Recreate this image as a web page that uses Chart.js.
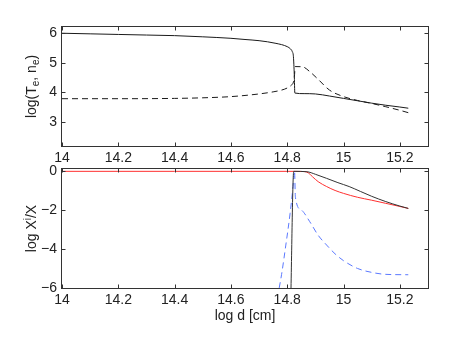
<!DOCTYPE html>
<html>
<head>
<meta charset="utf-8">
<script src="https://cdn.jsdelivr.net/npm/chart.js@4/dist/chart.umd.min.js"></script>
<style>
  html, body { margin: 0; padding: 0; background: #fff; }
  #wrap { position: relative; width: 469px; height: 353px; }
  canvas { position: absolute; left: 0; }
</style>
</head>
<body>
<div id="wrap">
  <canvas id="topChart" width="469" height="165" style="top:0"></canvas>
  <canvas id="bottomChart" width="469" height="198" style="top:155px"></canvas>
</div>
<script>
// tick labels
const xTicks = [14, 14.2, 14.4, 14.6, 14.8, 15, 15.2];
const topYTicks = [3, 4, 5, 6];
const bottomYTicks = [-6, -4, -2, 0];

// top panel: log T_e (solid)
const dTemp = [14.0, 14.1, 14.2, 14.3, 14.4, 14.5, 14.6, 14.65, 14.7, 14.76, 14.8, 14.812, 14.818, 14.822, 14.825, 14.827, 14.86, 14.9, 14.95, 15.0, 15.05, 15.1, 15.15, 15.2, 15.23];
const logTemp = [5.99, 5.97, 5.95, 5.93, 5.91, 5.87, 5.82, 5.78, 5.74, 5.65, 5.54, 5.46, 5.37, 5.2, 4.6, 3.98, 3.96, 3.95, 3.88, 3.80, 3.72, 3.64, 3.57, 3.51, 3.47];

// top panel: log n_e (dashed)
const dDens = [14.0, 14.2, 14.4, 14.5, 14.6, 14.7, 14.75, 14.78, 14.8, 14.815, 14.822, 14.826, 14.828, 14.855, 14.88, 14.91, 14.95, 15.0, 15.05, 15.1, 15.15, 15.2, 15.23];
const logDens = [3.79, 3.79, 3.80, 3.82, 3.86, 3.95, 4.02, 4.08, 4.15, 4.25, 4.35, 4.6, 4.87, 4.86, 4.7, 4.44, 4.08, 3.86, 3.73, 3.63, 3.52, 3.40, 3.32];

// bottom panel: ion fractions
const dBlack = [14.812, 14.823, 14.87, 14.9, 14.94, 14.98, 15.02, 15.06, 15.1, 15.15, 15.2, 15.23];
const logBlack = [-7, -0.02, -0.04, -0.17, -0.38, -0.6, -0.8, -1.05, -1.3, -1.57, -1.8, -1.92];

const dRed = [14.0, 14.4, 14.8, 14.86, 14.875, 14.89, 14.91, 14.94, 14.97, 15.0, 15.05, 15.1, 15.15, 15.2, 15.23];
const logRed = [-0.02, -0.02, -0.02, -0.03, -0.1, -0.3, -0.55, -0.8, -1.0, -1.15, -1.35, -1.5, -1.66, -1.82, -1.92];

const dBlue = [14.765, 14.78, 14.795, 14.81, 14.82, 14.826, 14.829, 14.85, 14.88, 14.91, 14.94, 14.97, 15.0, 15.05, 15.1, 15.15, 15.23];
const logBlue = [-6.5, -5.3, -3.8, -2.2, -0.9, 0, -1.35, -2.0, -2.6, -3.3, -3.8, -4.25, -4.6, -5.0, -5.2, -5.3, -5.32];

const pts = (xs, ys) => xs.map((x, i) => ({x: x, y: ys[i]}));
const FONT = '"Liberation Sans", Arial, sans-serif';
const INK = '#222';

function drawRich(ctx, parts, cx, cy) {
    ctx.save();
    ctx.translate(cx, cy);
    ctx.rotate(-Math.PI / 2);
    ctx.fillStyle = INK;
    ctx.textBaseline = 'alphabetic';
    let w = 0;
    parts.forEach(p => {
        ctx.font = p.size + 'px ' + FONT;
        p.w = ctx.measureText(p.t).width;
        w += p.w;
    });
    let xx = -w / 2;
    parts.forEach(p => {
        ctx.font = p.size + 'px ' + FONT;
        ctx.fillText(p.t, xx, 5 + p.dy);
        xx += p.w;
    });
    ctx.restore();
}

// box round the axes with inward ticks, plus the y label
const frame = {
    id: 'frame',
    afterDatasetsDraw(chart, args, opts) {
        const {ctx, chartArea: a, scales: {x, y}} = chart;
        ctx.save();
        ctx.strokeStyle = '#333';
        ctx.lineWidth = 1;
        const L = Math.round(a.left) - 0.5, R = Math.round(a.right) + 0.5;
        const T = Math.round(a.top) - 0.5, B = Math.round(a.bottom) + 0.5;
        ctx.strokeRect(L, T, R - L, B - T);
        ctx.beginPath();
        x.ticks.forEach(t => {
            const px = Math.round(x.getPixelForValue(t.value)) + 0.5;
            ctx.moveTo(px, B); ctx.lineTo(px, B - 4);
            ctx.moveTo(px, T); ctx.lineTo(px, T + 4);
        });
        y.ticks.forEach(t => {
            const py = Math.round(y.getPixelForValue(t.value)) + 0.5;
            ctx.moveTo(L, py); ctx.lineTo(L + 4, py);
            ctx.moveTo(R, py); ctx.lineTo(R - 4, py);
        });
        ctx.stroke();
        ctx.restore();
        drawRich(ctx, opts.yTitle, opts.titleX, (a.top + a.bottom) / 2);
    }
};

function makePanel(id, datasets, cfg) {
    return new Chart(document.getElementById(id), {
        type: 'line',
        data: {datasets: datasets},
        options: {
            responsive: false,
            animation: false,
            events: [],
            layout: {padding: {top: cfg.padTop, right: 41, left: 0, bottom: 0}},
            elements: {point: {radius: 0}, line: {cubicInterpolationMode: 'monotone'}},
            plugins: {
                legend: {display: false},
                tooltip: {enabled: false},
                frame: {yTitle: cfg.yTitle, titleX: 31}
            },
            scales: {
                x: {
                    type: 'linear', min: 14, max: 15.3,
                    grid: {display: false, drawTicks: false},
                    border: {display: false},
                    afterBuildTicks: s => { s.ticks = xTicks.map(v => ({value: v})); },
                    afterFit: s => { s.height = cfg.xHeight; },
                    ticks: {padding: 4, autoSkip: false, maxRotation: 0, color: INK,
                            font: {family: FONT, size: 14}, callback: v => String(v)},
                    title: cfg.xTitle ? {display: true, text: cfg.xTitle, color: INK,
                            font: {family: FONT, size: 14}, padding: {top: 0, bottom: 28}} : {display: false}
                },
                y: {
                    min: cfg.yMin, max: cfg.yMax,
                    grid: {display: false, drawTicks: false},
                    border: {display: false},
                    afterBuildTicks: s => { s.ticks = cfg.yTicks.map(v => ({value: v})); },
                    afterFit: s => { s.width = 62; },
                    ticks: {padding: 5, color: INK, font: {family: FONT, size: 14},
                            callback: v => String(v).replace('-', '\u2212')}
                }
            }
        },
        plugins: [frame]
    });
}

makePanel('topChart', [
    {data: pts(dTemp, logTemp), borderColor: '#1a1a1a', borderWidth: 1, clip: 0},
    {data: pts(dDens, logDens), borderColor: '#1a1a1a', borderWidth: 1, borderDash: [6, 4], clip: 0}
], {
    padTop: 27, xHeight: 19, yMin: 2.2, yMax: 6.2, yTicks: topYTicks,
    yTitle: [
        {t: 'log(T', size: 14, dy: 0}, {t: 'e', size: 10, dy: 3},
        {t: ', n', size: 14, dy: 0}, {t: 'e', size: 10, dy: 3},
        {t: ')', size: 14, dy: 0}
    ]
});

makePanel('bottomChart', [
    {data: pts(dBlack, logBlack), borderColor: '#333', borderWidth: 1, clip: 0, order: 0},
    {data: pts(dRed, logRed), borderColor: '#ff3030', borderWidth: 1, clip: 0, order: 1},
    {data: pts(dBlue, logBlue), borderColor: '#5a78ff', borderWidth: 1, borderDash: [6, 4], clip: 0, order: 2}
], {
    padTop: 14, xHeight: 65, yMin: -6, yMax: 0.1, yTicks: bottomYTicks,
    xTitle: 'log d [cm]',
    yTitle: [
        {t: 'log X', size: 14, dy: 0}, {t: 'i', size: 10, dy: -5},
        {t: '/X', size: 14, dy: 0}
    ]
});
</script>
</body>
</html>
